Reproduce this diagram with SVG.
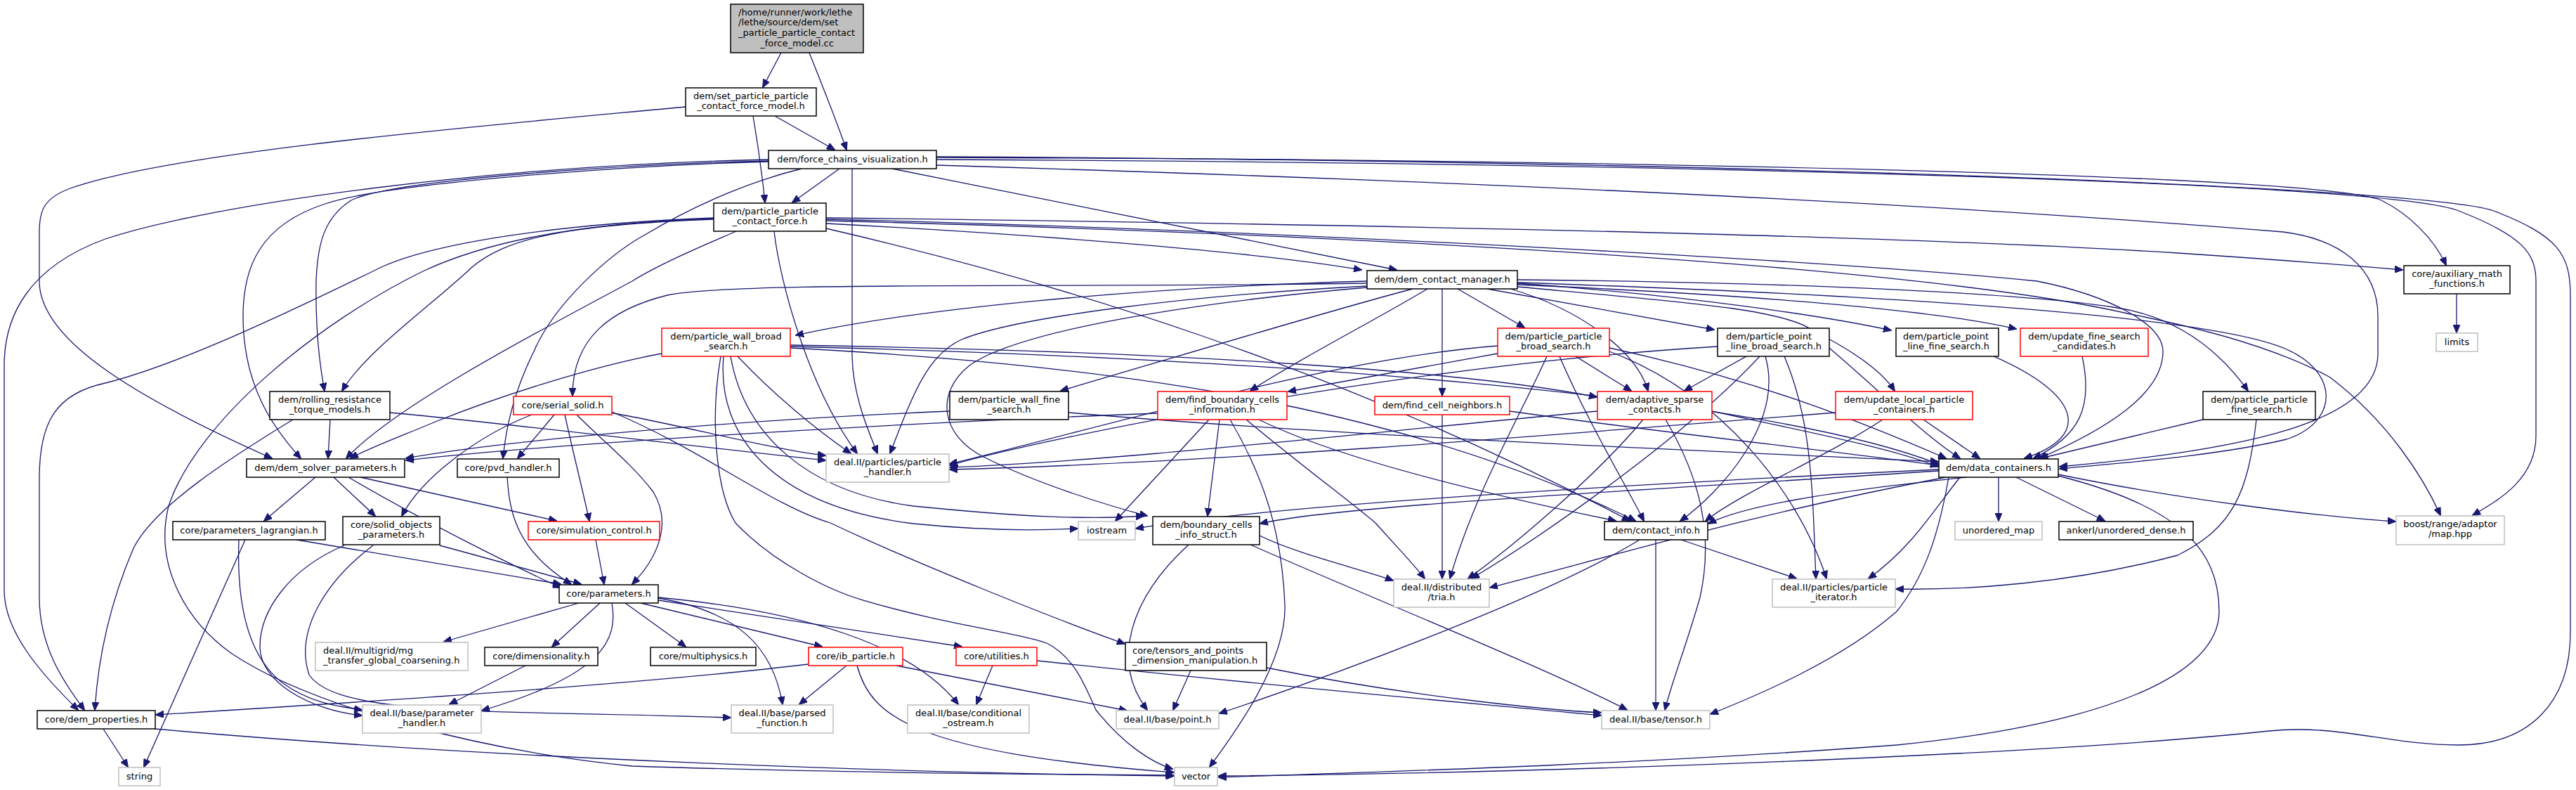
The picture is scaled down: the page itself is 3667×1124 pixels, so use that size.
<svg xmlns="http://www.w3.org/2000/svg" width="3667" height="1124" viewBox="0 0 3667 1124">
<style>
.n rect{fill:#fff;stroke:#000;stroke-width:1.5}
.g rect{fill:#fff;stroke:#bfbfbf;stroke-width:1.5}
.r rect{fill:#fff;stroke:#f00;stroke-width:1.5}
.root rect{fill:#bfbfbf;stroke:#000;stroke-width:1.5}
text{font-family:"DejaVu Sans","Liberation Sans",sans-serif;font-size:13px;fill:#000;text-anchor:middle}
text.l{text-anchor:start}
#edges path{fill:none;stroke:#191970;stroke-width:1.3;marker-end:url(#a)}
</style>
<defs>
<marker id="a" markerWidth="12" markerHeight="10" refX="11" refY="5" orient="auto" markerUnits="userSpaceOnUse"><path d="M0,0 L12,5 L0,10 z" fill="#191970" stroke="#191970"/></marker>
</defs>
<rect width="3667" height="1124" fill="#fff"/>
<g id="edges">
<path d="M1112,75 L1086,124"/>
<path d="M1152,75 C1170,120 1190,170 1205,213"/>
<path d="M1103,165 L1188,213"/>
<path d="M1072,165 C1078,200 1085,250 1089,288"/>
<path d="M976,152 C700,178 250,215 100,268 C62,282 56,300 56,330 L56,400 C56,480 180,560 387,652"/>
<path d="M1195,240 L1128,288"/>
<path d="M1270,240 L1988,384"/>
<path d="M1176,318 C1500,335 1800,360 1938,384"/>
<path d="M1333,224 C2400,228 3300,250 3390,285 C3430,305 3465,340 3482,377"/>
<path d="M1333,227 C2400,232 3400,260 3500,300 C3590,335 3610,360 3610,400 L3610,620 C3610,680 3560,710 3520,733"/>
<path d="M1333,223 C2400,228 3450,265 3550,300 C3640,335 3659,360 3659,420 L3659,900 C3659,1000 3600,1060 3500,1060 C3400,1060 3330,1030 3230,1040 C2900,1075 2200,1100 1735,1104"/>
<path d="M1094,229 C900,233 560,255 500,285 C460,310 452,350 450,400 C449,470 455,520 462,556"/>
<path d="M1094,230 C900,235 550,260 463,290 C370,320 346,380 346,450 C346,550 390,610 428,652"/>
<path d="M1094,227 C700,235 300,290 150,340 C40,380 6,450 6,520 L6,840 C6,900 60,960 111,1010"/>
<path d="M1141,240 C1080,255 1000,285 920,333 C870,360 790,430 760,500 C730,560 720,610 716,652"/>
<path d="M1213,240 L1213,503 C1213,560 1235,610 1249,645"/>
<path d="M1333,235 C2000,255 2700,285 3250,330 C3330,340 3385,380 3385,450 L3385,503 C3385,600 3200,640 2932,664"/>
<path d="M1176,310 C2000,320 2700,335 3100,360 C3250,370 3350,378 3420,384"/>
<path d="M1016,312 C800,320 720,340 672,380 C620,430 520,500 487,556"/>
<path d="M1048,329 C1000,350 940,375 900,400 C750,480 560,580 493,652"/>
<path d="M1016,310 C800,318 620,345 543,380 C400,450 250,520 150,545 C80,560 56,600 56,680 L56,850 C56,920 90,970 120,1010"/>
<path d="M1016,311 C800,318 680,350 604,385 C450,460 280,600 240,720 C220,800 260,880 330,930 C450,1010 700,1070 900,1090 C1200,1100 1500,1102 1670,1103"/>
<path d="M1102,329 C1110,400 1150,550 1220,645"/>
<path d="M1176,312 C1800,327 2600,370 2900,400 C3000,420 3079,460 3079,500 C3079,560 3000,610 2903,652"/>
<path d="M1176,314 C1800,330 2700,370 3033,447 C3150,470 3250,500 3317,537 C3400,600 3450,680 3474,733"/>
<path d="M1176,325 C1500,400 1900,520 2320,741"/>
<path d="M1946,400 C1600,410 1300,440 1133,477"/>
<path d="M1946,403 C1500,410 1050,400 950,420 C870,440 815,480 815,563"/>
<path d="M2011,411 C1900,440 1700,500 1510,556"/>
<path d="M2032,411 C1950,460 1850,510 1780,556"/>
<path d="M2053,411 L2053,563"/>
<path d="M2075,411 L2170,466"/>
<path d="M2117,411 L2440,469"/>
<path d="M2150,411 C2250,440 2330,500 2346,556"/>
<path d="M2160,403 C2400,420 2600,450 2692,470"/>
<path d="M2160,405 C2500,420 2750,440 2870,468"/>
<path d="M2160,408 C2400,430 2540,440 2580,470 C2640,500 2680,530 2697,556"/>
<path d="M2160,398 C2600,402 2900,420 3008,437 C3100,450 3160,500 3200,556"/>
<path d="M2160,402 C2700,420 3150,450 3255,497 C3330,530 3330,600 3255,625 C3150,650 3000,660 2932,667"/>
<path d="M1946,407 C1700,420 1450,450 1369,483 C1320,505 1300,560 1267,645"/>
<path d="M1946,409 C1700,430 1450,470 1380,520 C1330,560 1340,620 1400,650 C1480,690 1580,720 1633,734"/>
<path d="M942,503 C850,520 720,560 620,600 C560,625 520,640 499,652"/>
<path d="M1050,507 C1100,560 1160,610 1211,645"/>
<path d="M1125,493 C1800,510 2500,560 2759,660"/>
<path d="M1125,491 C1700,500 2100,530 2273,565"/>
<path d="M1125,495 C1600,520 2000,580 2328,741"/>
<path d="M1026,507 C1010,600 1020,700 1047,744 C1100,800 1180,840 1229,854 C1350,890 1450,900 1490,915 C1530,935 1545,977 1560,1010 C1600,1060 1640,1085 1669,1094"/>
<path d="M1040,507 C1060,620 1150,700 1300,720 C1450,735 1550,740 1628,734"/>
<path d="M1030,507 C1020,620 1100,720 1300,745 C1400,755 1480,755 1534,752"/>
<path d="M470,597 L467,652"/>
<path d="M417,597 C330,650 220,720 190,780 C160,850 140,930 135,1010"/>
<path d="M554,587 C700,600 900,625 1175,655"/>
<path d="M789,590 L737,652"/>
<path d="M757,590 C680,620 600,680 572,734"/>
<path d="M804,590 C815,640 830,700 839,741"/>
<path d="M821,590 C850,620 900,660 930,700 C960,750 930,800 900,831"/>
<path d="M862,586 C950,600 1100,640 1175,648"/>
<path d="M871,586 C1000,640 1100,720 1182,744 C1300,800 1500,880 1601,916"/>
<path d="M1352,585 C1000,600 700,630 578,652"/>
<path d="M1521,587 C1900,620 2400,640 2759,657"/>
<path d="M1648,588 C1200,605 750,635 578,655"/>
<path d="M1721,597 L1588,741"/>
<path d="M1736,597 L1719,734"/>
<path d="M1774,597 C1850,660 1930,720 1958,744 C1990,780 2010,800 2028,823"/>
<path d="M1792,597 C1900,650 2100,700 2300,741"/>
<path d="M1751,597 C1800,680 1825,760 1829,860 C1832,940 1760,1040 1722,1091"/>
<path d="M2053,590 L2053,823"/>
<path d="M2149,585 C2400,620 2600,640 2759,662"/>
<path d="M2132,503 L1834,557"/>
<path d="M2243,507 L2322,556"/>
<path d="M2132,492 C1900,510 1600,600 1352,660"/>
<path d="M2291,495 C2500,540 2650,600 2770,652"/>
<path d="M2220,507 C2260,600 2320,700 2340,741"/>
<path d="M2202,507 C2160,600 2100,700 2064,823"/>
<path d="M2291,500 C2450,560 2560,700 2600,823"/>
<path d="M2486,507 L2398,556"/>
<path d="M2445,493 C2000,520 1500,620 1352,662"/>
<path d="M2604,495 C2680,560 2740,620 2790,652"/>
<path d="M2513,507 C2540,600 2450,700 2392,741"/>
<path d="M2505,507 C2400,620 2200,760 2095,823"/>
<path d="M2540,507 C2580,600 2580,700 2585,823"/>
<path d="M2274,585 C1900,620 1600,655 1352,665"/>
<path d="M2437,585 C2600,620 2700,640 2759,664"/>
<path d="M2339,597 C2270,680 2150,780 2090,823"/>
<path d="M2371,597 C2420,680 2440,760 2420,850 C2400,920 2380,970 2370,1010"/>
<path d="M2613,587 C2200,620 1700,660 1352,668"/>
<path d="M2738,597 L2818,652"/>
<path d="M2680,597 C2600,650 2480,700 2428,741"/>
<path d="M2838,507 C2960,560 2980,620 2882,652"/>
<path d="M2964,507 C2980,580 2960,620 2895,652"/>
<path d="M3136,597 L2905,652"/>
<path d="M3212,597 C3200,700 3180,750 3100,790 C2950,830 2800,840 2699,838"/>
<path d="M2760,668 C2300,690 1800,720 1617,752"/>
<path d="M2760,670 C2300,700 1900,720 1794,745"/>
<path d="M2800,679 C2600,700 2480,720 2432,745"/>
<path d="M2845,679 L2845,741"/>
<path d="M2870,679 L2996,741"/>
<path d="M2930,675 C3100,710 3300,735 3410,742"/>
<path d="M2770,679 C2500,730 2300,790 2121,836"/>
<path d="M2790,679 C2750,730 2720,780 2660,823"/>
<path d="M2774,679 C2760,760 2740,820 2700,870 C2620,940 2500,990 2435,1016"/>
<path d="M2930,677 C3100,720 3159,780 3159,870 C3159,960 3000,1030 2700,1060 C2300,1090 1900,1100 1735,1106"/>
<path d="M1692,775 C1610,850 1580,940 1633,1010"/>
<path d="M1793,762 C1850,790 1940,810 1983,826"/>
<path d="M1780,775 C1950,850 2200,950 2316,1010"/>
<path d="M2334,768 C2200,850 1900,960 1736,1015"/>
<path d="M2357,768 L2357,1010"/>
<path d="M2393,768 L2557,823"/>
<path d="M422,768 L798,831"/>
<path d="M340,768 C337,850 350,930 400,970 C440,1000 480,1005 515,1010"/>
<path d="M349,768 L205,1091"/>
<path d="M626,776 L827,831"/>
<path d="M490,776 C410,810 370,870 370,920 C370,970 440,1010 515,1018"/>
<path d="M531,776 C460,830 420,900 440,960 C480,1020 700,1010 1040,1021"/>
<path d="M848,768 L860,831"/>
<path d="M722,679 C725,720 730,780 813,831"/>
<path d="M449,679 L376,741"/>
<path d="M475,679 L534,734"/>
<path d="M496,679 C600,740 720,800 798,836"/>
<path d="M513,679 L792,741"/>
<path d="M824,858 L632,913"/>
<path d="M854,858 L786,920"/>
<path d="M871,858 C880,910 860,960 686,1011"/>
<path d="M890,858 L976,920"/>
<path d="M912,858 L1170,920"/>
<path d="M937,854 L1369,920"/>
<path d="M937,851 C1050,870 1100,920 1114,1002"/>
<path d="M937,850 C1150,870 1300,920 1364,1002"/>
<path d="M748,947 L640,1002"/>
<path d="M1205,947 L1138,1002"/>
<path d="M1276,947 L1604,1011"/>
<path d="M1220,947 C1240,1020 1300,1070 1671,1099"/>
<path d="M1151,945 C900,975 500,1000 222,1017"/>
<path d="M1413,947 L1390,1002"/>
<path d="M1476,940 C1900,985 2150,1005 2279,1018"/>
<path d="M1695,954 L1670,1010"/>
<path d="M1803,950 C2000,990 2200,1010 2279,1014"/>
<path d="M147,1037 L182,1091"/>
<path d="M220,1037 C700,1080 1300,1100 1671,1104"/>
<path d="M3497,418 L3497,473"/>
</g>
<g id="n1" class="root"><rect x="1040" y="6" width="189" height="69"/><text class="l" x="1051" y="21.5">/home/runner/work/lethe</text><text class="l" x="1051" y="36.2">/lethe/source/dem/set</text><text class="l" x="1051" y="50.9">_particle_particle_contact</text><text x="1134.5" y="65.6">_force_model.cc</text></g>
<g id="n2" class="n"><rect x="976" y="125" width="186" height="40"/><text x="1069" y="140.5">dem/set_particle_particle</text><text x="1069" y="154.5">_contact_force_model.h</text></g>
<g id="n3" class="n"><rect x="1094" y="214" width="239" height="26"/><text x="1213.5" y="231">dem/force_chains_visualization.h</text></g>
<g id="n4" class="n"><rect x="1016" y="289" width="160" height="40"/><text x="1096" y="304.5">dem/particle_particle</text><text x="1096" y="318.5">_contact_force.h</text></g>
<g id="n5" class="n"><rect x="1946" y="385" width="214" height="26"/><text x="2053" y="402">dem/dem_contact_manager.h</text></g>
<g id="n6" class="n"><rect x="3422" y="378" width="151" height="40"/><text x="3497.5" y="393.5">core/auxiliary_math</text><text x="3497.5" y="407.5">_functions.h</text></g>
<g id="n7" class="g"><rect x="3468" y="474" width="59" height="26"/><text x="3497.5" y="491">limits</text></g>
<g id="n8" class="r"><rect x="942" y="467" width="183" height="40"/><text x="1033.5" y="482.5">dem/particle_wall_broad</text><text x="1033.5" y="496.5">_search.h</text></g>
<g id="n9" class="r"><rect x="2132" y="467" width="159" height="40"/><text x="2211.5" y="482.5">dem/particle_particle</text><text x="2211.5" y="496.5">_broad_search.h</text></g>
<g id="n10" class="n"><rect x="2445" y="467" width="159" height="40"/><text class="l" x="2457" y="482.5">dem/particle_point</text><text class="l" x="2457" y="496.5">_line_broad_search.h</text></g>
<g id="n11" class="n"><rect x="2699" y="467" width="146" height="40"/><text class="l" x="2709" y="482.5">dem/particle_point</text><text class="l" x="2709" y="496.5">_line_fine_search.h</text></g>
<g id="n12" class="r"><rect x="2876" y="467" width="182" height="40"/><text x="2967" y="482.5">dem/update_fine_search</text><text x="2967" y="496.5">_candidates.h</text></g>
<g id="n13" class="n"><rect x="384" y="557" width="171" height="40"/><text x="469.5" y="572.5">dem/rolling_resistance</text><text x="469.5" y="586.5">_torque_models.h</text></g>
<g id="n14" class="r"><rect x="731" y="564" width="140" height="26"/><text x="801" y="581">core/serial_solid.h</text></g>
<g id="n15" class="n"><rect x="1352" y="557" width="169" height="40"/><text x="1436.5" y="572.5">dem/particle_wall_fine</text><text x="1436.5" y="586.5">_search.h</text></g>
<g id="n16" class="r"><rect x="1648" y="557" width="184" height="40"/><text x="1740" y="572.5">dem/find_boundary_cells</text><text x="1740" y="586.5">_information.h</text></g>
<g id="n17" class="r"><rect x="1957" y="564" width="192" height="26"/><text x="2053" y="581">dem/find_cell_neighbors.h</text></g>
<g id="n18" class="r"><rect x="2274" y="557" width="163" height="40"/><text x="2355.5" y="572.5">dem/adaptive_sparse</text><text x="2355.5" y="586.5">_contacts.h</text></g>
<g id="n19" class="r"><rect x="2613" y="557" width="195" height="40"/><text x="2710.5" y="572.5">dem/update_local_particle</text><text x="2710.5" y="586.5">_containers.h</text></g>
<g id="n20" class="n"><rect x="3136" y="557" width="160" height="40"/><text x="3216" y="572.5">dem/particle_particle</text><text x="3216" y="586.5">_fine_search.h</text></g>
<g id="n21" class="n"><rect x="351" y="653" width="225" height="26"/><text x="463.5" y="670">dem/dem_solver_parameters.h</text></g>
<g id="n22" class="n"><rect x="651" y="653" width="145" height="26"/><text x="723.5" y="670">core/pvd_handler.h</text></g>
<g id="n23" class="g"><rect x="1176" y="646" width="175" height="40"/><text x="1263.5" y="661.5">deal.II/particles/particle</text><text x="1263.5" y="675.5">_handler.h</text></g>
<g id="n24" class="n"><rect x="2760" y="653" width="170" height="26"/><text x="2845" y="670">dem/data_containers.h</text></g>
<g id="n25" class="n"><rect x="246" y="742" width="217" height="26"/><text x="354.5" y="759">core/parameters_lagrangian.h</text></g>
<g id="n26" class="n"><rect x="488" y="735" width="138" height="40"/><text x="557" y="750.5">core/solid_objects</text><text x="557" y="764.5">_parameters.h</text></g>
<g id="n27" class="r"><rect x="752" y="742" width="187" height="26"/><text x="845.5" y="759">core/simulation_control.h</text></g>
<g id="n28" class="g"><rect x="1535" y="742" width="81" height="26"/><text x="1575.5" y="759">iostream</text></g>
<g id="n29" class="n"><rect x="1641" y="735" width="152" height="40"/><text x="1717" y="750.5">dem/boundary_cells</text><text x="1717" y="764.5">_info_struct.h</text></g>
<g id="n30" class="n"><rect x="2284" y="742" width="147" height="26"/><text x="2357.5" y="759">dem/contact_info.h</text></g>
<g id="n31" class="g"><rect x="2783" y="742" width="124" height="26"/><text x="2845" y="759">unordered_map</text></g>
<g id="n32" class="n"><rect x="2931" y="742" width="191" height="26"/><text x="3026.5" y="759">ankerl/unordered_dense.h</text></g>
<g id="n33" class="g"><rect x="3411" y="734" width="154" height="41"/><text x="3488" y="749.5">boost/range/adaptor</text><text x="3488" y="763.5">/map.hpp</text></g>
<g id="n34" class="n"><rect x="796" y="832" width="141" height="26"/><text x="866.5" y="849">core/parameters.h</text></g>
<g id="n35" class="g"><rect x="1984" y="824" width="136" height="40"/><text x="2052" y="839.5">deal.II/distributed</text><text x="2052" y="853.5">/tria.h</text></g>
<g id="n36" class="g"><rect x="2523" y="824" width="175" height="40"/><text x="2610.5" y="839.5">deal.II/particles/particle</text><text x="2610.5" y="853.5">_iterator.h</text></g>
<g id="n37" class="g"><rect x="449" y="914" width="217" height="40"/><text class="l" x="460" y="929.5">deal.II/multigrid/mg</text><text class="l" x="460" y="943.5">_transfer_global_coarsening.h</text></g>
<g id="n38" class="n"><rect x="690" y="921" width="161" height="26"/><text x="770.5" y="938">core/dimensionality.h</text></g>
<g id="n39" class="n"><rect x="926" y="921" width="150" height="26"/><text x="1001" y="938">core/multiphysics.h</text></g>
<g id="n40" class="r"><rect x="1151" y="921" width="134" height="26"/><text x="1218" y="938">core/ib_particle.h</text></g>
<g id="n41" class="r"><rect x="1361" y="921" width="115" height="26"/><text x="1418.5" y="938">core/utilities.h</text></g>
<g id="n42" class="n"><rect x="1602" y="914" width="201" height="40"/><text class="l" x="1612" y="929.5">core/tensors_and_points</text><text class="l" x="1612" y="943.5">_dimension_manipulation.h</text></g>
<g id="n43" class="n"><rect x="53" y="1011" width="168" height="26"/><text x="137" y="1028">core/dem_properties.h</text></g>
<g id="n44" class="g"><rect x="516" y="1003" width="169" height="40"/><text x="600.5" y="1018.5">deal.II/base/parameter</text><text x="600.5" y="1032.5">_handler.h</text></g>
<g id="n45" class="g"><rect x="1041" y="1003" width="145" height="40"/><text x="1113.5" y="1018.5">deal.II/base/parsed</text><text x="1113.5" y="1032.5">_function.h</text></g>
<g id="n46" class="g"><rect x="1292" y="1003" width="173" height="40"/><text x="1378.5" y="1018.5">deal.II/base/conditional</text><text x="1378.5" y="1032.5">_ostream.h</text></g>
<g id="n47" class="g"><rect x="1589" y="1011" width="146" height="26"/><text x="1662" y="1028">deal.II/base/point.h</text></g>
<g id="n48" class="g"><rect x="2280" y="1011" width="154" height="26"/><text x="2357" y="1028">deal.II/base/tensor.h</text></g>
<g id="n49" class="g"><rect x="169" y="1092" width="59" height="26"/><text x="198.5" y="1109">string</text></g>
<g id="n50" class="g"><rect x="1672" y="1092" width="61" height="26"/><text x="1702.5" y="1109">vector</text></g>
</svg>
